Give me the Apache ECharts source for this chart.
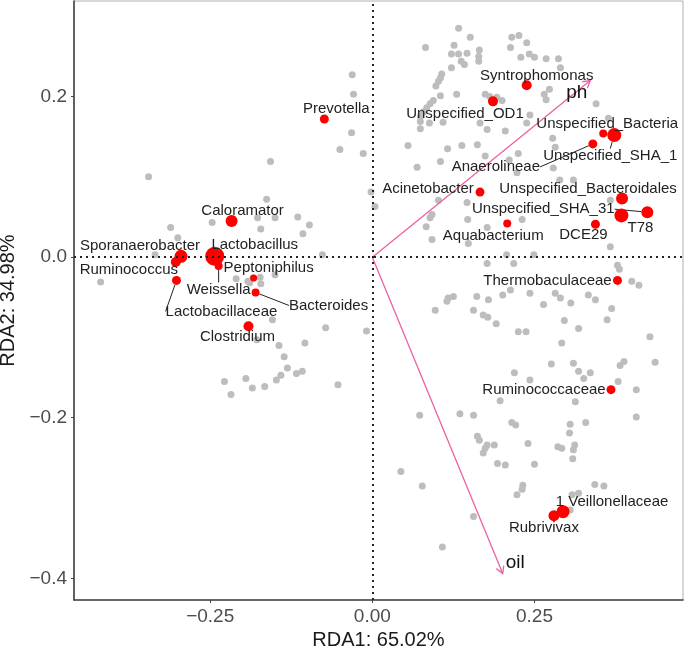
<!DOCTYPE html>
<html>
<head>
<meta charset="utf-8">
<title>RDA biplot</title>
<script src="https://cdn.jsdelivr.net/npm/echarts@6/dist/echarts.min.js"></script>
<style>
  html, body { margin: 0; padding: 0; background: #fff; }
  #rda { width: 685px; height: 647px; }
</style>
</head>
<body>
<div id="rda"></div>
<script>
// RDA biplot - grey = all OTUs, red = labelled taxa, pink = env vectors

var xTicks = [-0.25, 0, 0.25];
var yTicks = [-0.4, -0.2, 0, 0.2];

// grey OTU scores
var greyX = [
  -0.031, -0.029, -0.032, -0.050, -0.014, -0.002, -0.157, -0.345, -0.163, -0.177,
  -0.150, -0.115, -0.097, -0.107, -0.172, -0.247, -0.311, -0.300, -0.077, -0.335,
  -0.419, -0.210, -0.192, -0.184, -0.173, -0.172, -0.150, -0.189, -0.154, -0.072,
  -0.009, -0.144, -0.104, -0.136, -0.131, -0.141, -0.148, -0.117, -0.108, -0.195,
  -0.228, -0.185, -0.166, -0.218, -0.053, -0.178,
  0.133, 0.151, 0.215, 0.226, 0.213, 0.082, 0.126, 0.165, 0.122, 0.133,
  0.146, 0.164, 0.229, 0.242, 0.250, 0.137, 0.142, 0.164, 0.122, 0.107,
  0.105, 0.102, 0.098, 0.130, 0.105, 0.094, 0.089, 0.084, 0.079, 0.074,
  0.074, 0.074, 0.088, 0.109, 0.174, 0.181, 0.192, 0.200, 0.166, 0.177,
  0.205, 0.243, 0.238, 0.268, 0.287, 0.290, 0.265, 0.268, 0.273, 0.345,
  0.364, 0.278, 0.116, 0.138, 0.162, 0.225, 0.282, 0.289, 0.310, 0.055,
  0.174, 0.211, 0.069, 0.105, 0.223, 0.004, 0.102, 0.146, 0.092, 0.089,
  0.147, 0.177, 0.231, 0.083, 0.092, 0.148, 0.207, 0.249, 0.177, 0.218,
  0.125, 0.161, 0.213, 0.243, 0.201, 0.117, 0.279, 0.367, 0.367, 0.378,
  0.381, 0.400, 0.411, 0.282, 0.290, 0.333, 0.115, 0.097, 0.156, 0.179,
  0.264, 0.306, 0.344, 0.369, 0.171, 0.178, 0.191, 0.225, 0.237, 0.296,
  0.318, 0.362, 0.292, 0.428, 0.436, 0.388, 0.382, 0.276, 0.310, 0.318,
  0.336, 0.326, 0.219, 0.243, 0.379, 0.407, 0.197, 0.313, 0.073, 0.135,
  0.156, 0.407, 0.329, 0.305, 0.215, 0.221, 0.304, 0.162, 0.165, 0.177,
  0.174, 0.171, 0.188, 0.240, 0.286, 0.292, 0.312, 0.310, 0.309, 0.193,
  0.205, 0.250, 0.044, 0.077, 0.232, 0.231, 0.223, 0.343, 0.357, 0.318,
  0.308, 0.156, 0.108, 0.305, 0.238
];
var greyY = [
  0.227, 0.203, 0.155, 0.134, 0.129, 0.081, 0.119, 0.100, 0.072, 0.049,
  0.049, 0.050, 0.040, 0.029, 0.035, 0.043, 0.037, 0.024, 0.003, 0.003,
  -0.031, -0.027, -0.030, -0.026, -0.025, -0.033, -0.022, -0.032, -0.078, -0.088,
  -0.092, -0.110, -0.107, -0.124, -0.138, -0.147, -0.153, -0.145, -0.142, -0.151,
  -0.155, -0.163, -0.161, -0.171, -0.159, -0.103,
  0.285, 0.274, 0.274, 0.276, 0.261, 0.261, 0.264, 0.258, 0.253, 0.253,
  0.254, 0.250, 0.249, 0.253, 0.249, 0.244, 0.240, 0.244, 0.236, 0.228,
  0.223, 0.219, 0.213, 0.203, 0.201, 0.195, 0.191, 0.186, 0.181, 0.175,
  0.169, 0.160, 0.167, 0.168, 0.203, 0.200, 0.199, 0.195, 0.167, 0.159,
  0.157, 0.177, 0.167, 0.247, 0.247, 0.236, 0.203, 0.196, 0.209, 0.191,
  0.173, 0.148, 0.135, 0.139, 0.140, 0.129, 0.137, 0.096, 0.096, 0.139,
  0.126, 0.121, 0.112, 0.119, 0.105, 0.063, 0.071, 0.068, 0.053, 0.049,
  0.047, 0.037, 0.047, 0.038, 0.022, 0.017, 0.003, 0.003, -0.008, -0.008,
  -0.049, -0.049, -0.041, -0.045, -0.047, -0.051, 0.111, 0.071, 0.013, -0.010,
  -0.015, -0.030, -0.035, -0.045, -0.051, -0.047, -0.055, -0.066, -0.066, -0.053,
  -0.059, -0.057, -0.053, -0.064, -0.072, -0.075, -0.083, -0.093, -0.093, -0.079,
  -0.089, -0.078, -0.107, -0.099, -0.131, -0.130, -0.135, -0.133, -0.132, -0.142,
  -0.144, -0.151, -0.144, -0.153, -0.155, -0.165, -0.179, -0.180, -0.197, -0.195,
  -0.197, -0.199, -0.206, -0.208, -0.206, -0.209, -0.219, -0.223, -0.228, -0.234,
  -0.238, -0.244, -0.234, -0.232, -0.236, -0.238, -0.234, -0.240, -0.251, -0.257,
  -0.259, -0.258, -0.267, -0.285, -0.284, -0.289, -0.296, -0.283, -0.285, -0.294,
  -0.296, -0.323, -0.361, -0.315, 0.267
];

// labelled taxa
var taxa = [
  'Prevotella', 'Caloramator', 'Sporanaerobacter', 'Ruminococcus', 'Lactobacillaceae',
  'Lactobacillus', 'Weissella', 'Peptoniphilus', 'Bacteroides', 'Clostridium',
  'Syntrophomonas', 'Unspecified_OD1', 'Unspecified_Bacteria', 'Unspecified_SHA_1', 'Anaerolineae',
  'Acinetobacter', 'Unspecified_Bacteroidales', 'Unspecified_SHA_31', 'T78', 'Aquabacterium',
  'DCE29', 'Thermobaculaceae', 'Ruminococcaceae', '1 Veillonellaceae', 'Rubrivivax'
];
var taxaX = [
  -0.074, -0.217, -0.295, -0.303, -0.302,
  -0.243, -0.237, -0.183, -0.180, -0.191,
  0.238, 0.186, 0.356, 0.373, 0.340,
  0.166, 0.385, 0.424, 0.384, 0.208,
  0.344, 0.378, 0.368, 0.294, 0.280
];
var taxaY = [
  0.172, 0.045, 0.001, -0.006, -0.029,
  0.001, -0.011, -0.026, -0.044, -0.086,
  0.214, 0.194, 0.154, 0.152, 0.141,
  0.081, 0.073, 0.056, 0.052, 0.042,
  0.041, -0.029, -0.165, -0.317, -0.322
];

// environmental vectors
var envNames = ['ph', 'oil'];
var envX = [0.336, 0.201];
var envY = [0.220, -0.394];

// drawing only: dot diameters, label nudges (px) and which labels get a segment
var dotSize = [9, 12, 13, 10, 9, 19, 8, 7, 8, 10, 10, 10, 8, 14, 9, 9, 12, 12, 14, 8, 9, 9, 9, 13, 11];
var nudge = [
  [12, -10], [11, -10], [-41, -10], [-47, 8], [45, 31],
  [40, -11], [0, 24], [15, -10], [73, 13], [-11, 11],
  [10, -9], [-28, 12], [4, -10], [-4, 21], [-97, 23],
  [-52, -3], [-34, -10], [-104, -3], [19, 12], [-14, 12],
  [-12, 11], [-70, 0], [-67, 0], [49, -10], [-10, 12]
];
var segment = [0, 0, 0, 0, 1, 0, 1, 0, 1, 0, 0, 0, 0, 1, 1, 0, 0, 1, 0, 0, 0, 0, 0, 0, 0];
var envNudge = [[-24, 12], [3, -11]];

var FONT = '"Liberation Sans", Arial, sans-serif';
var PINK = '#ee5fa5';

function minus(s) { return s.replace('-', '\u2212'); }

var chart = echarts.init(document.getElementById('rda'));

var option = {
  animation: false,
  textStyle: { fontFamily: FONT },
  grid: {
    left: 74, right: 2, top: 1, bottom: 47,
    show: true, borderColor: '#b0b0b0', borderWidth: 1,
    outerBoundsMode: 'none'
  },
  xAxis: {
    type: 'value', min: -0.46, max: 0.479,
    name: 'RDA1: 65.02%', nameLocation: 'middle', nameGap: 26,
    nameTextStyle: { fontSize: 20, color: '#1a1a1a' },
    axisLine: { show: true, onZero: false, lineStyle: { color: '#444', width: 1.6 } },
    axisTick: { show: true, length: 3, customValues: xTicks, lineStyle: { color: '#444' } },
    axisLabel: {
      customValues: xTicks, fontSize: 19, color: '#4d4d4d', margin: 7,
      formatter: function (v) { return minus(v.toFixed(2)); }
    },
    splitLine: { show: false }
  },
  yAxis: {
    type: 'value', min: -0.427, max: 0.319,
    name: 'RDA2: 34.98%', nameLocation: 'middle', nameGap: 50,
    nameTextStyle: { fontSize: 20, color: '#1a1a1a' },
    axisLine: { show: true, onZero: false, lineStyle: { color: '#444', width: 1.6 } },
    axisTick: { show: true, length: 3, customValues: yTicks, lineStyle: { color: '#444' } },
    axisLabel: {
      customValues: yTicks, fontSize: 19, color: '#4d4d4d', margin: 7,
      formatter: function (v) { return minus(v.toFixed(1)); }
    },
    splitLine: { show: false }
  },
  series: [
    {
      name: 'otu',
      type: 'scatter',
      symbolSize: 7,
      itemStyle: { color: '#bdbdbd', opacity: 1 },
      silent: true,
      z: 2,
      data: greyX.map(function (x, i) { return [x, greyY[i]]; }),
      markLine: {
        silent: true,
        symbol: ['none', 'none'],
        label: { show: false },
        lineStyle: { type: [2, 4], color: '#222', width: 2 },
        data: [{ xAxis: 0 }, { yAxis: 0 }]
      }
    },
    {
      name: 'env',
      type: 'custom',
      z: 3,
      clip: false,
      silent: true,
      data: envNames.map(function (n, i) { return [envX[i], envY[i]]; }),
      renderItem: function (params, api) {
        var i = params.dataIndex;
        var o = api.coord([0, 0]);
        var t = api.coord([api.value(0), api.value(1)]);
        var a = Math.atan2(t[1] - o[1], t[0] - o[0]);
        var len = 8, spread = Math.PI / 6;
        var h1 = [t[0] - len * Math.cos(a - spread), t[1] - len * Math.sin(a - spread)];
        var h2 = [t[0] - len * Math.cos(a + spread), t[1] - len * Math.sin(a + spread)];
        return {
          type: 'group',
          children: [
            { type: 'line', shape: { x1: o[0], y1: o[1], x2: t[0], y2: t[1] },
              style: { stroke: PINK, lineWidth: 1.3 } },
            { type: 'polyline', shape: { points: [h1, t, h2] },
              style: { stroke: PINK, lineWidth: 1.3, fill: 'none' } },
            { type: 'text', x: t[0] + envNudge[i][0], y: t[1] + envNudge[i][1],
              style: { text: envNames[i], fontSize: 19, fontFamily: FONT, fill: '#111',
                       align: 'left', verticalAlign: 'middle' } }
          ]
        };
      }
    },
    {
      name: 'taxa',
      type: 'scatter',
      z: 4,
      silent: true,
      itemStyle: { color: '#ff0000', opacity: 1 },
      data: taxa.map(function (n, i) {
        return {
          name: n,
          value: [taxaX[i], taxaY[i]],
          symbolSize: dotSize[i],
          labelLine: { show: !!segment[i] }
        };
      }),
      label: {
        show: true,
        position: 'inside',
        formatter: '{b}',
        fontSize: 15,
        fontFamily: FONT,
        color: '#222',
        textBorderWidth: 0
      },
      labelLine: { lineStyle: { color: '#222', width: 1 } },
      labelLayout: function (p) {
        var d = nudge[p.dataIndex];
        return { dx: d[0], dy: d[1], hideOverlap: false };
      }
    }
  ]
};

chart.setOption(option);
</script>
</body>
</html>
